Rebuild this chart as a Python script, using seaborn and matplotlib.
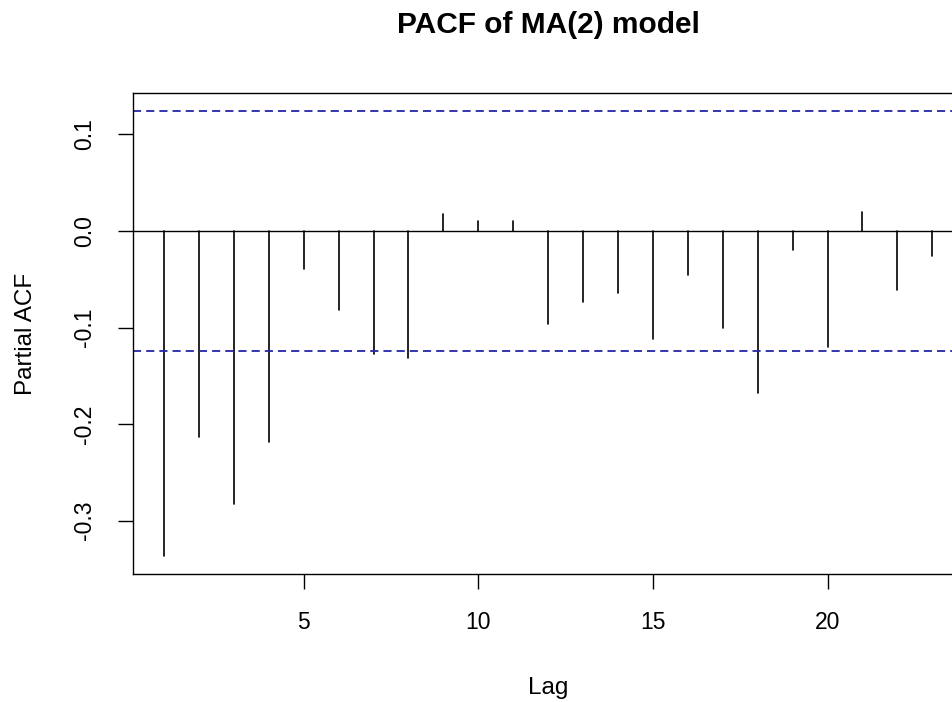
import numpy as np
import pandas as pd
import seaborn as sns
import matplotlib.pyplot as plt

# PACF values (lags 1..23)
lags = list(range(1, 24))
pacf_vals = [-0.337, -0.213, -0.283, -0.219, -0.039, -0.082, -0.127, -0.132,
             0.017, 0.010, 0.010, -0.096, -0.074, -0.064, -0.112, -0.046,
             -0.100, -0.168, -0.020, -0.120, 0.020, -0.061, -0.026]
n_obs = 250
x_ticks = [5, 10, 15, 20]
y_ticks = [-0.3, -0.2, -0.1, 0.0, 0.1]
y_tick_labels = ["-0.3", "-0.2", "-0.1", "0.0", "0.1"]

ci = 1.96 / np.sqrt(n_obs)

# two points per lag -> one vertical stem per lag
stems = pd.DataFrame({
    "lag": np.repeat(lags, 2),
    "pacf": np.ravel([[0.0, v] for v in pacf_vals]),
})

sns.set_theme(style="white")
plt.rcParams["font.family"] = ["Liberation Sans", "DejaVu Sans"]
plt.rcParams["text.color"] = "black"
plt.rcParams["axes.labelcolor"] = "black"
plt.rcParams["xtick.color"] = "black"
plt.rcParams["ytick.color"] = "black"

fig = plt.figure(figsize=(9.52, 7.02), dpi=100)
ax = fig.add_axes([0.140, 0.1819, 0.8716, 0.6852])

sns.lineplot(data=stems, x="lag", y="pacf", units="lag", estimator=None,
             sort=False, color="black", linewidth=1.2, ax=ax)

ax.axhline(0, color="black", linewidth=1.0)
ax.axhline(ci, color="#2525a8", linewidth=1.3, linestyle=(0, (4.5, 2.8)))
ax.axhline(-ci, color="#2525a8", linewidth=1.3, linestyle=(0, (4.5, 2.8)))

# R style 4% padding on both axes
lo, hi = min(min(pacf_vals), -ci), max(max(pacf_vals), ci)
ax.set_ylim(lo - 0.04 * (hi - lo), hi + 0.04 * (hi - lo))
span = lags[-1] - lags[0]
ax.set_xlim(lags[0] - 0.04 * span, lags[-1] + 0.04 * span)

ax.set_xticks(x_ticks)
ax.set_yticks(y_ticks, labels=y_tick_labels, rotation=90, va="center")
ax.tick_params(axis="both", direction="out", length=10.8, width=1.0,
               labelsize=16.5, bottom=True, left=True)
ax.tick_params(axis="x", pad=15.5)
ax.tick_params(axis="y", pad=16)

for s in ax.spines.values():
    s.set_visible(True)
    s.set_color("black")
    s.set_linewidth(1.0)

ax.set_xlabel("Lag", fontsize=17.5, va="center")
ax.xaxis.set_label_coords(0.5, -0.2364)
ax.set_ylabel("Partial ACF", fontsize=17.5, va="center")
ax.yaxis.set_label_coords(-0.1293, 0.5)
ax.set_title("PACF of MA(2) model", fontsize=21.5, fontweight="bold",
             y=1.1247, pad=0)

fig.savefig("out.png", dpi=100)
plt.close()
